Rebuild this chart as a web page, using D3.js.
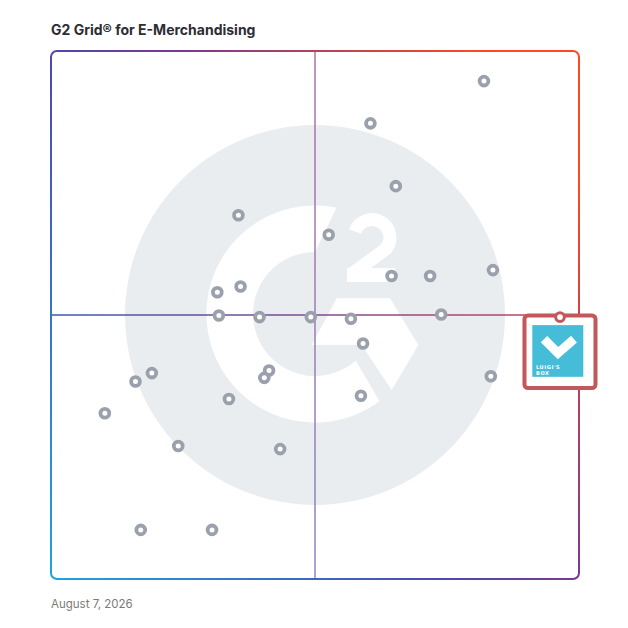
<!DOCTYPE html>
<html>
<head>
<meta charset="utf-8">
<script src="https://cdn.jsdelivr.net/npm/d3@7"></script>
<style>
body { margin: 0; background: #fff; }
svg { display: block; }
.title { font-family: Inter, "Noto Sans", sans-serif; font-weight: 700; font-size: 14px; fill: #2d2d33; }
.date { font-family: Inter, "Noto Sans", sans-serif; font-size: 11.5px; fill: #7a7a7a; }
.logo-text { font-family: "DejaVu Sans", sans-serif; font-weight: 700; font-size: 5px; fill: #fff; letter-spacing: 0.6px; }
</style>
</head>
<body>
<svg width="628" height="628"></svg>
<script>
var satisfaction   = [60.5, 65.3, 35.5, 52.6, 64.5, 71.8, 83.7, 31.5, 35.9, 31.8, 39.5, 49.2, 56.8, 73.9,
                      59.1, 83.3, 16.0, 19.1, 41.3, 40.4, 33.7, 58.7, 24.1, 43.4, 82.0, 10.2, 17.0, 30.5];
var marketPresence = [86.3, 74.4, 68.9, 65.2, 57.4, 57.4, 58.5, 54.3, 55.4, 49.9, 49.6, 49.6, 49.3, 50.1,
                      44.6, 38.4, 37.4, 39.0, 39.5, 38.1, 34.1, 34.7, 25.2, 24.6, 94.3, 31.4,  9.3,  9.3];
var featuredName = "Luigi's Box";
var featuredSatisfaction = 96.4;
var featuredPresence = 49.6;
var titleText = 'G2 Grid\u00ae for E-Merchandising';
var dateText = 'August 7, 2026';

// **** Scales ****
var xScale = d3.scaleLinear().domain([0, 100]).range([51, 579]);
var yScale = d3.scaleLinear().domain([0, 100]).range([579, 51]);

var svg = d3.select('svg');
var defs = svg.append('defs');

function addGradient(id, x1, y1, x2, y2, stops) {
    var g = defs.append('linearGradient').attr('id', id)
        .attr('gradientUnits', 'userSpaceOnUse')
        .attr('x1', x1).attr('y1', y1).attr('x2', x2).attr('y2', y2);
    stops.forEach(function(s) {
        g.append('stop').attr('offset', s[0]).attr('stop-color', s[1]);
    });
}

addGradient('frameGrad', 51, 579, 579, 179,
    [[0, '#1ea4dc'], [0.48, '#5046b0'], [0.64, '#7a3a90'], [1, '#ff4a1f']]);
addGradient('hGrad', 51, 0, 579, 0, [[0, '#3d58ab'], [0.5, '#7f4a8f'], [1, '#c9435a']]);
addGradient('vGrad', 0, 51, 0, 579, [[0, '#b1709f'], [1, '#8a86c9']]);

// **** Background G2 mark ****
var cx = xScale(50), cy = yScale(50);
var bg = svg.append('g').attr('class', 'g2-mark');

bg.append('circle').attr('cx', cx).attr('cy', cy).attr('r', 190).attr('fill', '#eaedf0');

function pt(r, deg) {
    var a = deg * Math.PI / 180;
    return (cx + r * Math.cos(a)).toFixed(2) + ',' + (cy - 1 + r * Math.sin(a)).toFixed(2);
}
var R = 108.5, r = 62;
bg.append('path')
    .attr('d', 'M' + pt(R, -78.6) + 'A' + R + ',' + R + ' 0 1 0 ' + pt(R, 53.5) +
               'L' + pt(r, 48.8) + 'A' + r + ',' + r + ' 0 1 1 ' + pt(r, -90) + 'Z')
    .attr('fill', '#fff');

var hex = [[-3.3, 30], [21.7, -16.7], [75, -16.7], [103.3, 30], [76.7, 75], [46.7, 30]];
bg.append('polygon')
    .attr('points', hex.map(function(p) { return (cx + p[0]) + ',' + (cy + p[1]); }).join(' '))
    .attr('fill', '#fff');

// the little "2"
bg.append('path')
    .attr('d', 'M' + (cx + 40) + ',' + (cy - 83.5) +
               'A18,18 0 1 1 ' + (cx + 70.8) + ',' + (cy - 65.9) +
               'L' + (cx + 38) + ',' + (cy - 42))
    .attr('fill', 'none').attr('stroke', '#fff').attr('stroke-width', 13);
bg.append('rect')
    .attr('x', cx + 32).attr('y', cy - 47).attr('width', 48).attr('height', 14)
    .attr('fill', '#fff');

// **** Quadrant lines ****
svg.append('line')
    .attr('x1', xScale(0)).attr('x2', xScale(100))
    .attr('y1', yScale(50)).attr('y2', yScale(50))
    .attr('stroke', 'url(#hGrad)').attr('stroke-width', 1.5);
svg.append('line')
    .attr('x1', xScale(50)).attr('x2', xScale(50))
    .attr('y1', yScale(100)).attr('y2', yScale(0))
    .attr('stroke', 'url(#vGrad)').attr('stroke-width', 1.5);

// **** Frame ****
svg.append('rect')
    .attr('x', xScale(0)).attr('y', yScale(100))
    .attr('width', xScale(100) - xScale(0)).attr('height', yScale(0) - yScale(100))
    .attr('rx', 6)
    .attr('fill', 'none').attr('stroke', 'url(#frameGrad)').attr('stroke-width', 2);

// **** Vendor dots ****
svg.append('g').selectAll('circle').data(satisfaction).enter().append('circle')
    .attr('cx', function(d) { return xScale(d); })
    .attr('cy', function(d, i) { return yScale(marketPresence[i]); })
    .attr('r', 4.4)
    .attr('fill', '#fff')
    .attr('stroke', '#9ba1ac')
    .attr('stroke-width', 3.8);

// **** Featured product ****
var fx = xScale(featuredSatisfaction), fy = yScale(featuredPresence);
var feat = svg.append('g').attr('class', 'featured');
feat.append('rect')
    .attr('x', fx - 35.5).attr('y', fy - 1.7)
    .attr('width', 71).attr('height', 72.7).attr('rx', 3.5)
    .attr('fill', '#fff').attr('stroke', '#c4575b').attr('stroke-width', 4);
feat.append('rect')
    .attr('x', fx - 27.7).attr('y', fy + 8)
    .attr('width', 51).attr('height', 51.7)
    .attr('fill', '#45bdd8');
feat.append('polyline')
    .attr('points', [[-16, 22], [-2, 36], [14, 22]].map(function(p) { return (fx + p[0]) + ',' + (fy + p[1]); }).join(' '))
    .attr('fill', 'none').attr('stroke', '#fff').attr('stroke-width', 9).attr('stroke-linejoin', 'miter');
feat.append('text').attr('class', 'logo-text')
    .attr('x', fx - 24).attr('y', fy + 51.5).text("LUIGI'S");
feat.append('text').attr('class', 'logo-text')
    .attr('x', fx - 24).attr('y', fy + 57.5).text('BOX');
feat.append('circle')
    .attr('cx', fx).attr('cy', fy).attr('r', 4.4)
    .attr('fill', '#fff').attr('stroke', '#c4575b').attr('stroke-width', 3)
    .append('title').text(featuredName);

// **** Title and date ****
svg.append('text').attr('class', 'title')
    .attr('x', 51).attr('y', 35)
    .text(titleText);

svg.append('text').attr('class', 'date')
    .attr('x', 51).attr('y', 608)
    .text(dateText);
</script>
</body>
</html>
